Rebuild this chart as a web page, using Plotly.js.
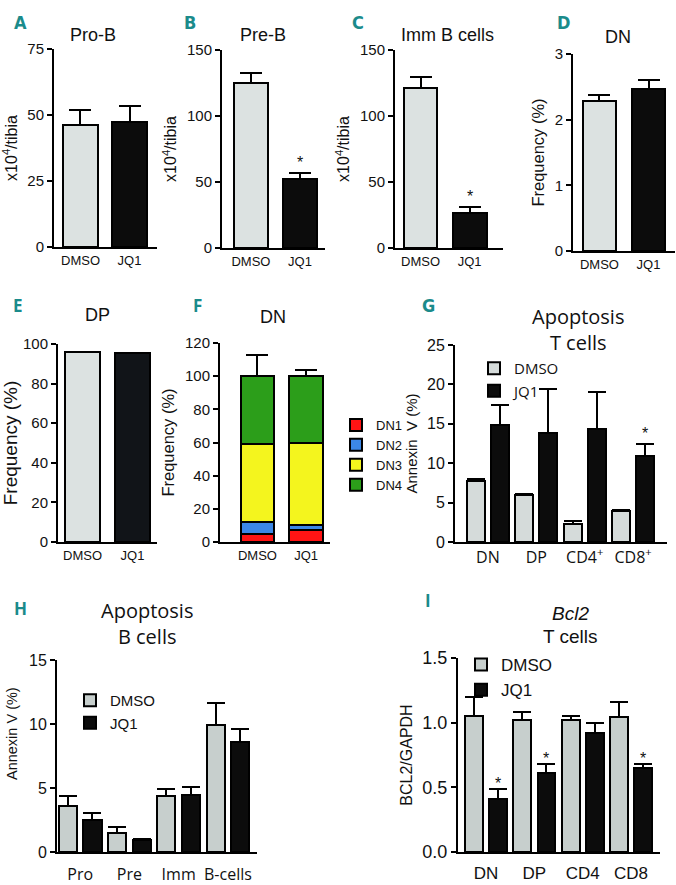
<!DOCTYPE html>
<html><head><meta charset="utf-8">
<script src="https://cdn.plot.ly/plotly-3.0.1.min.js"></script>
<style>html,body{margin:0;padding:0;background:#fff}#chart{width:676px;height:885px}</style>
</head><body><div id="chart"></div>
<script>
// ---------------- DATA ----------------
const groups = ['DMSO', 'JQ1'];
// A Pro-B (x10^4/tibia)
const proB = [46.2, 47.5];
const proBSem = [5.7, 6.0];
// B Pre-B
const preB = [124.8, 52.2];
const preBSem = [8.0, 4.5];
const preBStar = [false, true];
// C Imm B cells
const immB = [121.5, 26.5];
const immBSem = [8.3, 4.5];
const immBStar = [false, true];
// D DN frequency (%)
const dnFreq = [2.29, 2.47];
const dnFreqSem = [0.08, 0.14];
// E DP frequency (%)
const dpFreq = [95.8, 95.7];
// F DN subsets (stacked, %)
const dnSubsets = ['DN1', 'DN2', 'DN3', 'DN4'];
const dn1 = [5.0, 7.5];   const dn1Sem = [1.6, 1.1];
const dn2 = [7.0, 2.5];   const dn2Sem = [2.0, 0.5];
const dn3 = [47.0, 50.0]; const dn3Sem = [11.0, 2.6];
const dn4 = [41.0, 40.0]; const dn4Sem = [13.0, 3.6];
// G Apoptosis T cells (Annexin V %)
const tCats = ['DN', 'DP', 'CD4<sup>+</sup>', 'CD8<sup>+</sup>'];
const apoTDmso = [7.75, 5.93, 2.33, 3.90];
const apoTDmsoSem = [0.20, 0.20, 0.35, 0.12];
const apoTJq1 = [14.83, 13.77, 14.28, 10.93];
const apoTJq1Sem = [2.55, 5.60, 4.80, 1.50];
const apoTStar = [false, false, false, true];
// H Apoptosis B cells (Annexin V %)
const bCats = ['Pro', 'Pre', 'Imm', 'B-cells'];
const apoBDmso = [3.63, 1.49, 4.36, 9.91];
const apoBDmsoSem = [0.73, 0.47, 0.55, 1.70];
const apoBJq1 = [2.53, 0.91, 4.43, 8.58];
const apoBJq1Sem = [0.55, 0.11, 0.63, 1.02];
// I Bcl2 T cells (BCL2/GAPDH)
const bclCats = ['DN', 'DP', 'CD4', 'CD8'];
const bclDmso = [1.05, 1.02, 1.02, 1.04];
const bclDmsoSem = [0.15, 0.06, 0.03, 0.12];
const bclJq1 = [0.41, 0.61, 0.92, 0.65];
const bclJq1Sem = [0.08, 0.07, 0.08, 0.03];
const bclStar = [true, true, false, true];

// ---------------- STYLE ----------------
const W = 676, H = 885;
const ARIAL = 'Liberation Sans, Arial, sans-serif';
const MYRIAD = 'Open Sans, Noto Sans, sans-serif';
const TEAL = '#1b8b8b';
const BLACK = '#0c0c0c';
const GREY1 = '#dce2e1';
const GREY2 = '#d5dbda';
const GREY3 = '#c7cfcd';
const subsetColors = ['#ff1414', '#3c87e6', '#f4f51e', '#2c9e1a'];

function xd(a, b) { return [a / W, b / W]; }
function yd(top, bot) { return [1 - bot / H, 1 - top / H]; }
function errUp(sem, hw) {
  return { type: 'data', symmetric: false, array: sem, arrayminus: sem.map(() => 0),
           color: '#000', thickness: 2, width: hw, visible: true };
}
function f(family, size) { return { family: family, size: size, color: '#111' }; }

const traces = [];
const annotations = [];
const layout = {
  width: W, height: H, margin: { l: 0, r: 0, t: 0, b: 0 },
  paper_bgcolor: '#fff', plot_bgcolor: 'rgba(0,0,0,0)',
  barmode: 'stack', showlegend: true, font: { family: ARIAL, color: '#111' },
  annotations: annotations
};

function setAxes(n, o) {
  const xs = n === 1 ? '' : String(n);
  layout['xaxis' + xs] = Object.assign({
    domain: xd(o.px[0], o.px[1]), range: o.xr, anchor: 'y' + xs,
    showline: true, linewidth: 2, linecolor: '#000', ticks: '', showgrid: false, zeroline: false,
    tickfont: o.xfont || f(ARIAL, 13), fixedrange: true
  }, o.xextra || {});
  layout['yaxis' + xs] = {
    domain: yd(o.py[0], o.py[1]), range: o.yr, anchor: 'x' + xs, dtick: o.dtick, tick0: 0,
    tickformat: o.tickformat || '',
    showline: true, linewidth: 2, linecolor: '#000', ticks: 'outside', ticklen: 5, tickwidth: 2,
    tickcolor: '#000', showgrid: false, zeroline: false,
    tickfont: o.yfont || f(ARIAL, 15),
    title: { text: o.ytitle || '', font: o.ytfont || f(ARIAL, 16), standoff: o.standoff || 6 },
    fixedrange: true
  };
}

function simplePanel(n, vals, sem, width, hw, colors) {
  const xs = n === 1 ? '' : String(n);
  const t = { type: 'bar', x: groups, y: vals, xaxis: 'x' + xs, yaxis: 'y' + xs, width: width,
    marker: { color: colors, line: { color: '#000', width: 2 } }, showlegend: false, hoverinfo: 'skip' };
  if (sem) t.error_y = errUp(sem, hw);
  traces.push(t);
}

function stars(n, xs, tops, flags, shift, size) {
  const s = n === 1 ? '' : String(n);
  flags.forEach((fl, i) => {
    if (!fl) return;
    annotations.push({ xref: 'x' + s, yref: 'y' + s, x: xs[i], y: tops[i], text: '*', showarrow: false,
      yanchor: 'bottom', yshift: shift, font: f(ARIAL, size) });
  });
}

function label(text, px, py, font, angle) {
  annotations.push({ xref: 'paper', yref: 'paper', x: px / W, y: 1 - py / H, text: text, showarrow: false,
    xanchor: 'center', yanchor: 'middle', font: font, textangle: angle || 0 });
}

// ---------------- PANELS ----------------
const colPair = [GREY1, BLACK];
// A
setAxes(1, { px: [54, 157], py: [49, 247], xr: [-0.54, 1.56], yr: [0, 75], dtick: 25, ytitle: 'x10<sup>4</sup>/tibia' });
simplePanel(1, proB, proBSem, 0.71, 11, colPair);
// B
setAxes(2, { px: [222, 325], py: [50, 248], xr: [-0.59, 1.51], yr: [0, 150], dtick: 50, ytitle: 'x10<sup>4</sup>/tibia' });
simplePanel(2, preB, preBSem, 0.68, 11, colPair);
stars(2, groups, preB.map((v, i) => v + preBSem[i]), preBStar, 0, 16);
// C
setAxes(3, { px: [395, 503], py: [50, 248], xr: [-0.52, 1.68], yr: [0, 150], dtick: 50, ytitle: 'x10<sup>4</sup>/tibia' });
simplePanel(3, immB, immBSem, 0.69, 11, colPair);
stars(3, groups, immB.map((v, i) => v + immBSem[i]), immBStar, 0, 16);
// D
setAxes(4, { px: [573, 675], py: [54, 251], xr: [-0.54, 1.54], yr: [0, 3], dtick: 1, ytitle: 'Frequency (%)', ytfont: f(ARIAL, 16.5) });
simplePanel(4, dnFreq, dnFreqSem, 0.69, 11, colPair);
// E
setAxes(5, { px: [58, 157], py: [344, 542], xr: [-0.49, 1.49], yr: [0, 100], dtick: 20, ytitle: 'Frequency (%)', ytfont: f(ARIAL, 19) });
simplePanel(5, dpFreq, null, 0.7, 0, [GREY1, '#111418']);
// F (stacked)
setAxes(6, { px: [220, 330], py: [343, 542], xr: [-0.77, 1.49], yr: [0, 120], dtick: 20, ytitle: 'Frequency (%)', ytfont: f(ARIAL, 16.5) });
[[dn1, dn1Sem], [dn2, dn2Sem], [dn3, dn3Sem], [dn4, dn4Sem]].forEach((d, k) => {
  traces.push({ type: 'bar', name: dnSubsets[k], x: groups, y: d[0], xaxis: 'x6', yaxis: 'y6', width: 0.69,
    marker: { color: subsetColors[k], line: { color: '#000', width: 2 } }, error_y: errUp(d[1], 11),
    legend: 'legend', showlegend: true, hoverinfo: 'skip' });
});
layout.legend = { x: 336 / W, y: 1 - 410 / H, xanchor: 'left', yanchor: 'top', traceorder: 'normal',
  bgcolor: 'rgba(0,0,0,0)', font: f(ARIAL, 13), itemwidth: 30, tracegroupgap: 0 };

// grouped panels
function groupedPanel(n, cats, d1, s1, d2, s2, col1, legName, hw) {
  const xs = String(n);
  const pos1 = cats.map((c, i) => i - 0.25);
  const pos2 = cats.map((c, i) => i + 0.25);
  traces.push({ type: 'bar', name: 'DMSO', x: pos1, y: d1, xaxis: 'x' + xs, yaxis: 'y' + xs, width: 0.37,
    marker: { color: col1, line: { color: '#000', width: 2 } }, error_y: errUp(s1, hw),
    legend: legName, showlegend: true, hoverinfo: 'skip' });
  traces.push({ type: 'bar', name: 'JQ1', x: pos2, y: d2, xaxis: 'x' + xs, yaxis: 'y' + xs, width: 0.37,
    marker: { color: BLACK, line: { color: '#000', width: 2 } }, error_y: errUp(s2, hw),
    legend: legName, showlegend: true, hoverinfo: 'skip' });
  return pos2;
}
// G
setAxes(7, { px: [455, 667], py: [345, 542], xr: [-0.68, 3.70], yr: [0, 25], dtick: 5, ytitle: 'Annexin  V (%)',
  ytfont: f(ARIAL, 15), yfont: f(ARIAL, 16), xfont: f(MYRIAD, 16),
  xextra: { tickmode: 'array', tickvals: tCats.map((c, i) => i), ticktext: tCats } });
const gPos = groupedPanel(7, tCats, apoTDmso, apoTDmsoSem, apoTJq1, apoTJq1Sem, GREY2, 'legend2', 9);
stars(7, gPos, apoTJq1.map((v, i) => v + apoTJq1Sem[i]), apoTStar, 0, 16);
layout.legend2 = { x: 474 / W, y: 1 - 352 / H, xanchor: 'left', yanchor: 'top', traceorder: 'normal',
  bgcolor: 'rgba(0,0,0,0)', font: f(MYRIAD, 15), itemwidth: 30 };
// H
setAxes(8, { px: [57, 257], py: [660, 852], xr: [-0.47, 3.59], yr: [0, 15], dtick: 5,
  yfont: f(ARIAL, 16), xfont: f(MYRIAD, 16),
  xextra: { tickmode: 'array', tickvals: bCats.map((c, i) => i), ticktext: bCats, ticklabelstandoff: 7 } });
groupedPanel(8, bCats, apoBDmso, apoBDmsoSem, apoBJq1, apoBJq1Sem, GREY3, 'legend3', 9);
label('Annexin V (%)', 12, 734, f(ARIAL, 14.5), -90);
layout.legend3 = { x: 70 / W, y: 1 - 684 / H, xanchor: 'left', yanchor: 'top', traceorder: 'normal',
  bgcolor: 'rgba(0,0,0,0)', font: f(ARIAL, 15), itemwidth: 30 };
// I
setAxes(9, { px: [458, 660], py: [658, 852], xr: [-0.58, 3.60], yr: [0, 1.5], dtick: 0.5, tickformat: '.1f',
  ytitle: 'BCL2/GAPDH', ytfont: f(ARIAL, 16), yfont: f(ARIAL, 18), xfont: f(ARIAL, 17),
  xextra: { tickmode: 'array', tickvals: bclCats.map((c, i) => i), ticktext: bclCats, ticklabelstandoff: 5 } });
const iPos = groupedPanel(9, bclCats, bclDmso, bclDmsoSem, bclJq1, bclJq1Sem, GREY3, 'legend4', 9);
stars(9, iPos, bclJq1.map((v, i) => v + bclJq1Sem[i]), bclStar, -5, 16);
layout.legend4 = { x: 461 / W, y: 1 - 647 / H, xanchor: 'left', yanchor: 'top', traceorder: 'normal',
  bgcolor: 'rgba(0,0,0,0)', font: f(ARIAL, 17), itemwidth: 30 };

// ---------------- TITLES & LETTERS ----------------
const titleFont = f(ARIAL, 18);
label('Pro-B', 93, 35, titleFont);
label('Pre-B', 263, 35, titleFont);
label('Imm B cells', 447, 35, titleFont);
label('DN', 618, 37, titleFont);
label('DP', 97, 315, titleFont);
label('DN', 273, 317, titleFont);
label('Apoptosis<br>T cells', 578, 329, f(MYRIAD, 20));
label('Apoptosis<br>B cells', 147, 623, f(MYRIAD, 20));
label('<i>Bcl2</i>', 570, 613, f(ARIAL, 19));
label('T cells', 570, 636, f(ARIAL, 19));

const letterFont = { family: 'Liberation Sans Narrow, DejaVu Sans Condensed, Arial Narrow, sans-serif', size: 18, color: TEAL, weight: 'bold' };
const letterFont2 = { family: 'Open Sans, sans-serif', size: 17, color: TEAL, weight: 'bold' };
label('<b>A</b>', 20, 23, letterFont);
label('<b>B</b>', 190, 23, letterFont);
label('<b>C</b>', 358, 23, letterFont);
label('<b>D</b>', 563, 23, letterFont);
label('<b>E</b>', 18, 305, letterFont2);
label('<b>F</b>', 197, 305, letterFont2);
label('<b>G</b>', 428, 305, letterFont);
label('<b>H</b>', 20, 608, letterFont2);
label('<b>I</b>', 428, 600, letterFont2);

Plotly.newPlot('chart', traces, layout, { staticPlot: true, displayModeBar: false });
</script>
</body></html>
